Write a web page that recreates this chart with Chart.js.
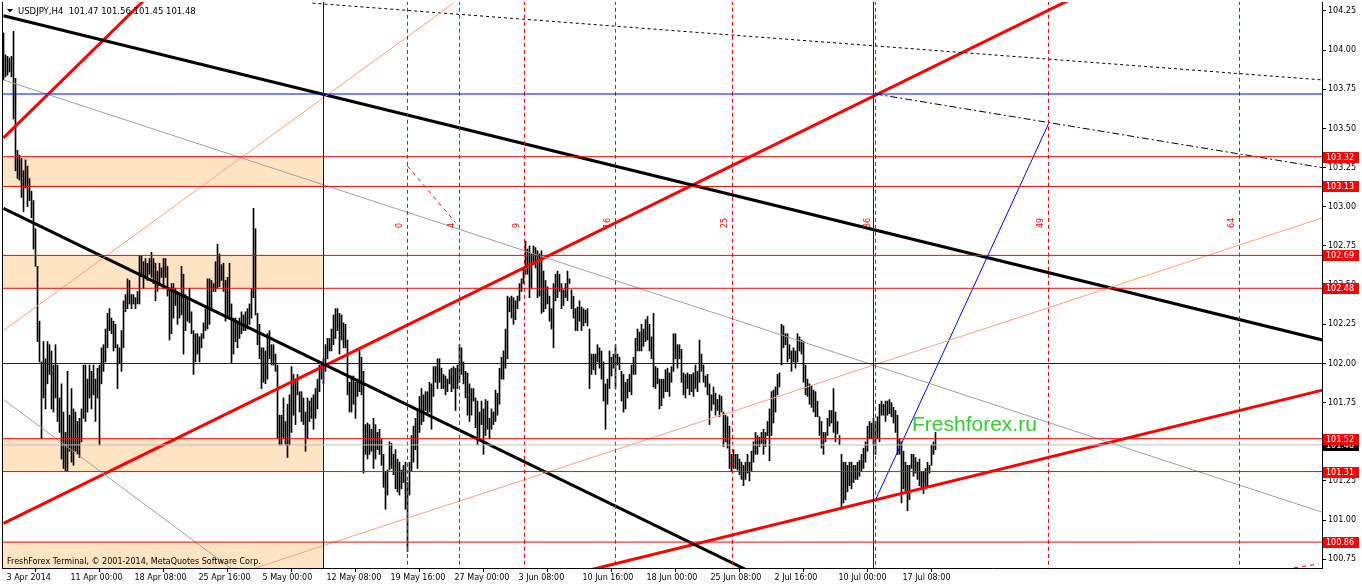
<!DOCTYPE html>
<html>
<head>
<meta charset="utf-8">
<title>USDJPY,H4</title>
<script src="https://cdn.jsdelivr.net/npm/chart.js@4.4.0/dist/chart.umd.min.js"></script>
<style>
  body { margin: 0; background: #fff; }
  canvas { display: block; }
</style>
</head>
<body>
<canvas id="myChart" width="1362" height="586"></canvas>
<script>
// H4 bars, index 0 = 3 Apr 2014 16:00
var barHigh = [
  104.11, 103.97, 103.96, 103.95, 103.96, 104.12, 103.82, 103.36, 103.33, 103.31,
  103.23, 103.30, 103.26, 103.18, 103.10, 103.04, 102.86, 102.62, 102.27, 102.01,
  102.14, 102.03, 102.14, 102.12, 102.08, 101.99, 102.12, 101.99, 101.78, 101.87,
  101.69, 101.56, 101.95, 101.67, 101.84, 101.71, 101.69, 101.63, 101.65, 101.71,
  101.99, 101.99, 101.90, 101.99, 101.95, 101.99, 101.90, 101.97, 101.99, 102.10,
  102.12, 102.22, 102.32, 102.35, 102.29, 102.27, 102.25, 102.12, 102.10, 102.21,
  102.40, 102.44, 102.54, 102.53, 102.44, 102.44, 102.42, 102.46, 102.69, 102.69,
  102.65, 102.67, 102.64, 102.67, 102.71, 102.67, 102.64, 102.59, 102.64, 102.61,
  102.67, 102.67, 102.62, 102.48, 102.51, 102.51, 102.48, 102.46, 102.44, 102.62,
  102.57, 102.44, 102.42, 102.48, 102.33, 102.21, 102.19, 102.19, 102.17, 102.19,
  102.26, 102.35, 102.54, 102.54, 102.53, 102.51, 102.65, 102.76, 102.70, 102.63,
  102.64, 102.53, 102.55, 102.64, 102.38, 102.29, 102.29, 102.27, 102.29, 102.33,
  102.31, 102.33, 102.35, 102.38, 102.48, 102.99, 102.86, 102.32, 102.25, 102.10,
  102.10, 102.08, 102.19, 102.21, 102.12, 102.12, 102.06, 101.99, 101.67, 101.67,
  101.78, 101.63, 101.74, 101.80, 101.98, 101.93, 101.90, 101.93, 101.82, 101.82,
  101.78, 101.69, 101.78, 101.76, 101.78, 101.80, 101.84, 101.90, 101.99, 102.01,
  102.03, 102.12, 102.16, 102.16, 102.22, 102.31, 102.35, 102.35, 102.32, 102.31,
  102.26, 102.25, 102.15, 101.88, 101.92, 101.92, 101.88, 101.90, 102.10, 102.04,
  101.95, 101.61, 101.62, 101.61, 101.58, 101.65, 101.61, 101.56, 101.58, 101.52,
  101.42, 101.31, 101.32, 101.50, 101.49, 101.42, 101.45, 101.39, 101.37, 101.32,
  101.35, 101.37, 101.24, 101.37, 101.54, 101.60, 101.65, 101.71, 101.79, 101.84,
  101.80, 101.82, 101.82, 101.88, 101.87, 101.98, 101.98, 102.03, 102.03, 101.97,
  101.93, 101.92, 101.90, 101.96, 101.97, 101.98, 101.97, 101.99, 102.12, 102.10,
  102.01, 101.95, 101.94, 101.87, 101.84, 101.84, 101.78, 101.76, 101.69, 101.76,
  101.71, 101.77, 101.76, 101.65, 101.71, 101.69, 101.83, 101.81, 101.97, 102.04,
  102.08, 102.22, 102.43, 102.42, 102.43, 102.42, 102.40, 102.43, 102.51, 102.54,
  102.61, 102.78, 102.73, 102.75, 102.70, 102.75, 102.74, 102.72, 102.70, 102.72,
  102.59, 102.53, 102.49, 102.43, 102.35, 102.51, 102.57, 102.59, 102.57, 102.51,
  102.47, 102.51, 102.59, 102.54, 102.47, 102.43, 102.35, 102.36, 102.40, 102.36,
  102.35, 102.34, 102.35, 102.22, 102.06, 102.06, 102.06, 102.12, 102.10, 102.08,
  102.01, 101.87, 101.90, 102.08, 102.04, 102.06, 102.12, 102.06, 102.04, 101.95,
  101.93, 101.88, 101.90, 101.93, 101.99, 102.04, 102.16, 102.22, 102.20, 102.25,
  102.22, 102.28, 102.30, 102.25, 102.17, 102.32, 101.98, 101.97, 101.90, 101.90,
  101.90, 101.96, 101.97, 101.94, 101.98, 102.19, 102.19, 102.12, 102.12, 102.09,
  101.94, 101.93, 101.94, 101.93, 101.93, 101.94, 101.99, 101.95, 102.15, 102.06,
  101.99, 101.92, 101.93, 101.87, 101.80, 101.85, 101.81, 101.77, 101.80, 101.79,
  101.69, 101.67, 101.66, 101.60, 101.42, 101.45, 101.42, 101.42, 101.39, 101.37,
  101.35, 101.37, 101.42, 101.37, 101.44, 101.50, 101.56, 101.54, 101.53, 101.56,
  101.58, 101.56, 101.63, 101.71, 101.82, 101.83, 101.85, 101.93, 101.94, 102.25,
  102.24, 102.19, 102.19, 102.12, 102.08, 102.10, 102.08, 102.19, 102.17, 102.15,
  102.14, 101.99, 101.90, 101.87, 101.86, 101.83, 101.82, 101.76, 101.66, 101.63,
  101.56, 101.56, 101.65, 101.70, 101.70, 101.84, 101.69, 101.63, 101.54, 101.42,
  101.37, 101.37, 101.35, 101.37, 101.37, 101.35, 101.35, 101.37, 101.38, 101.42,
  101.46, 101.50, 101.60, 101.63, 101.62, 101.65, 101.63, 101.66, 101.74, 101.76,
  101.74, 101.76, 101.76, 101.77, 101.75, 101.72, 101.70, 101.67, 101.52, 101.50,
  101.44, 101.37, 101.35, 101.35, 101.42, 101.42, 101.40, 101.37, 101.39, 101.31,
  101.31, 101.33, 101.37, 101.35, 101.48, 101.50, 101.56
];
var barLow = [
  103.81, 103.83, 103.84, 103.86, 103.83, 103.56, 103.23, 103.18, 103.17, 103.06,
  102.97, 103.12, 103.00, 103.04, 102.93, 102.73, 102.62, 102.14, 102.01, 101.52,
  101.78, 101.71, 101.87, 101.93, 101.71, 101.69, 101.78, 101.63, 101.56, 101.39,
  101.33, 101.31, 101.31, 101.44, 101.37, 101.35, 101.44, 101.42, 101.40, 101.50,
  101.65, 101.63, 101.69, 101.78, 101.71, 101.80, 101.63, 101.78, 101.48, 101.87,
  101.95, 102.01, 102.10, 102.21, 102.19, 102.08, 102.10, 101.84, 102.00, 101.95,
  102.10, 102.33, 102.35, 102.38, 102.35, 102.38, 102.35, 102.38, 102.38, 102.57,
  102.48, 102.55, 102.53, 102.57, 102.55, 102.51, 102.40, 102.46, 102.51, 102.55,
  102.48, 102.55, 102.43, 102.15, 102.19, 102.29, 102.37, 102.25, 102.29, 102.31,
  102.06, 102.21, 102.27, 102.26, 102.19, 101.93, 102.01, 102.06, 102.01, 102.10,
  102.16, 102.21, 102.22, 102.25, 102.35, 102.46, 102.46, 102.48, 102.49, 102.53,
  102.46, 102.27, 102.29, 102.29, 102.00, 102.06, 102.14, 102.10, 102.16, 102.19,
  102.21, 102.21, 102.22, 102.25, 102.29, 102.42, 102.31, 102.12, 102.03, 101.84,
  101.88, 101.87, 101.90, 102.03, 101.99, 101.99, 101.95, 101.52, 101.48, 101.48,
  101.52, 101.48, 101.40, 101.48, 101.56, 101.67, 101.61, 101.80, 101.69, 101.63,
  101.61, 101.44, 101.52, 101.63, 101.65, 101.58, 101.65, 101.71, 101.82, 101.90,
  101.87, 101.95, 102.03, 102.08, 102.08, 102.12, 102.16, 102.21, 102.06, 102.15,
  102.10, 102.10, 101.80, 101.69, 101.69, 101.74, 101.65, 101.79, 101.82, 101.80,
  101.30, 101.42, 101.39, 101.42, 101.44, 101.33, 101.39, 101.45, 101.42, 101.35,
  101.21, 101.07, 101.16, 101.32, 101.33, 101.29, 101.20, 101.18, 101.16, 101.20,
  101.24, 101.07, 100.80, 101.16, 101.31, 101.37, 101.45, 101.33, 101.56, 101.61,
  101.63, 101.70, 101.67, 101.69, 101.58, 101.79, 101.88, 101.84, 101.88, 101.84,
  101.84, 101.80, 101.82, 101.87, 101.82, 101.84, 101.70, 101.84, 101.88, 101.93,
  101.87, 101.78, 101.67, 101.63, 101.67, 101.76, 101.59, 101.48, 101.52, 101.61,
  101.42, 101.54, 101.58, 101.52, 101.58, 101.61, 101.63, 101.67, 101.74, 101.90,
  101.90, 101.97, 102.03, 102.33, 102.29, 102.25, 102.28, 102.35, 102.40, 102.46,
  102.51, 102.57, 102.57, 102.42, 102.48, 102.63, 102.61, 102.42, 102.43, 102.32,
  102.33, 102.35, 102.38, 102.27, 102.22, 102.10, 102.40, 102.42, 102.46, 102.35,
  102.37, 102.42, 102.40, 102.51, 102.35, 102.29, 102.21, 102.21, 102.27, 102.21,
  102.24, 102.26, 102.24, 101.84, 101.93, 101.96, 101.93, 102.01, 101.97, 101.90,
  101.76, 101.58, 101.74, 101.84, 101.92, 101.97, 101.84, 101.99, 101.96, 101.76,
  101.69, 101.71, 101.78, 101.82, 101.80, 101.93, 101.93, 102.08, 102.08, 102.08,
  102.11, 102.14, 102.15, 102.08, 102.03, 101.85, 101.84, 101.87, 101.71, 101.73,
  101.78, 101.82, 101.82, 101.79, 101.88, 101.95, 102.03, 101.97, 102.03, 101.88,
  101.80, 101.78, 101.84, 101.80, 101.82, 101.79, 101.84, 101.82, 101.88, 101.95,
  101.88, 101.85, 101.80, 101.61, 101.70, 101.74, 101.67, 101.70, 101.66, 101.69,
  101.47, 101.50, 101.46, 101.33, 101.31, 101.33, 101.33, 101.32, 101.29, 101.26,
  101.22, 101.26, 101.30, 101.25, 101.31, 101.37, 101.42, 101.42, 101.47, 101.49,
  101.42, 101.47, 101.54, 101.38, 101.54, 101.62, 101.69, 101.80, 101.85, 101.99,
  102.10, 102.12, 102.01, 102.03, 101.95, 102.01, 101.97, 102.01, 102.08, 102.06,
  101.88, 101.80, 101.79, 101.74, 101.72, 101.69, 101.66, 101.66, 101.54, 101.46,
  101.42, 101.50, 101.54, 101.60, 101.62, 101.56, 101.50, 101.55, 101.48, 101.07,
  101.11, 101.13, 101.18, 101.22, 101.20, 101.24, 101.26, 101.26, 101.28, 101.31,
  101.33, 101.37, 101.44, 101.52, 101.52, 101.48, 101.42, 101.52, 101.50, 101.67,
  101.67, 101.63, 101.67, 101.68, 101.66, 101.62, 101.56, 101.42, 101.42, 101.11,
  101.20, 101.18, 101.06, 101.13, 101.33, 101.28, 101.30, 101.26, 101.22, 101.20,
  101.17, 101.22, 101.22, 101.30, 101.35, 101.42, 101.45
];

var xTickIdx = [0, 32, 64, 96, 128, 160, 192, 224, 256, 288, 320, 352, 384, 416, 448];
var xTickLabels = ['3 Apr 2014', '11 Apr 00:00', '18 Apr 08:00', '25 Apr 16:00', '5 May 00:00',
  '12 May 08:00', '19 May 16:00', '27 May 00:00', '3 Jun 08:00', '10 Jun 16:00',
  '18 Jun 00:00', '25 Jun 08:00', '2 Jul 16:00', '10 Jul 00:00', '17 Jul 08:00'];
var yTicks = [100.75, 101.00, 101.25, 101.50, 101.75, 102.00, 102.25, 102.50, 102.75,
  103.00, 103.25, 103.50, 103.75, 104.00, 104.25];

var redLevels = [103.32, 103.13, 102.69, 102.48, 101.52, 101.31, 100.86];
var blueLevels = [103.72, 102.00];
var bidLevel = 101.48;
var zoneTop = [103.32, 102.69, 101.52, 100.86];
var zoneBottom = [103.13, 102.48, 101.31, 100.50];
var zoneEndIdx = 160;
var blueVerticals = [160, 435];
var fibIdx = [202, 228, 260.5, 306, 364.5, 436, 522.5, 618];
var fibLabels = ['0', '4', '9', '16', '25', '36', '49', '64'];

// trend lines: [index1, price1, index2, price2]
var thickBlack = [[0, 104.22, 659.5, 102.15], [0, 102.99, 380, 100.63]];
var thickRed = [[0, 103.44, 80, 104.44], [0, 100.98, 560, 104.49], [292.5, 100.68, 659.5, 101.83]];
var salmonLines = [[0, 102.21, 225, 104.30], [122.5, 100.68, 659.5, 102.93]];
var grayLines = [[0, 103.81, 659.5, 101.05], [0, 101.77, 115, 100.68]];
var blueTrend = [436, 101.13, 522.5, 103.53];
var dottedLine = [154.5, 104.30, 659.5, 103.81];
var dashDotLine = [436, 103.72, 659.5, 103.25];
var redDashed = [[202, 103.26, 226, 102.90], [637.5, 100.68, 657.5, 100.72]];

var FONT = "'DejaVu Sans', Tahoma, sans-serif";
var X_MIN = -0.75, X_MAX = 659.25;
var Y_MIN = 100.6946, Y_MAX = 104.3074;

function seg(l, color, width, dash) {
  return {
    type: 'line',
    data: [{x: l[0], y: l[1]}, {x: l[2], y: l[3]}],
    borderColor: color,
    borderWidth: width,
    borderDash: dash || [],
    pointRadius: 0,
    tension: 0,
    clip: 0,
    order: 1
  };
}

var datasets = [];
datasets.push({
  type: 'bar',
  data: barHigh.map(function(h, k) { return {x: k, y: [barLow[k], h]}; }),
  backgroundColor: '#000',
  borderWidth: 0,
  barThickness: 1,
  grouped: false,
  order: 10
});
datasets.push(seg([X_MIN, bidLevel, X_MAX, bidLevel], '#C0C0C0', 1));
redLevels.forEach(function(v) { datasets.push(seg([X_MIN, v, X_MAX, v], '#FF0000', 1)); });
blueLevels.forEach(function(v) { datasets.push(seg([X_MIN, v, X_MAX, v], '#0000FF', 1)); });
blueVerticals.forEach(function(v) { datasets.push(seg([v, 100, v, 105], '#0000FF', 1)); });
fibIdx.forEach(function(v) { datasets.push(seg([v, 100, v, 105], '#FF0000', 1, [4, 3])); });
redDashed.forEach(function(l) { datasets.push(seg(l, '#FF0000', 1, [4, 4])); });
grayLines.forEach(function(l) { datasets.push(seg(l, '#A0A0A0', 1)); });
salmonLines.forEach(function(l) { datasets.push(seg(l, '#FFA07A', 1)); });
datasets.push(seg(dottedLine, '#000', 1, [3, 3]));
datasets.push(seg(dashDotLine, '#000', 1, [7, 3, 2, 3]));
datasets.push(seg(blueTrend, '#0000FF', 1));
thickBlack.forEach(function(l) { datasets.push(seg(l, '#000', 3)); });
thickRed.forEach(function(l) { datasets.push(seg(l, '#FF0000', 3)); });

var overlay = {
  id: 'overlay',
  beforeDatasetsDraw: function(chart) {
    var ctx = chart.ctx, a = chart.chartArea, x = chart.scales.x, y = chart.scales.y;
    ctx.save();
    ctx.fillStyle = '#FFE4C4';
    var xr = x.getPixelForValue(zoneEndIdx);
    for (var k = 0; k < zoneTop.length; k++) {
      var t = y.getPixelForValue(zoneTop[k]);
      var b = Math.min(y.getPixelForValue(zoneBottom[k]), a.bottom);
      ctx.fillRect(a.left, t, xr - a.left, b - t);
    }
    ctx.restore();
  },
  afterDraw: function(chart) {
    var ctx = chart.ctx, a = chart.chartArea, x = chart.scales.x, y = chart.scales.y;
    ctx.save();
    // left frame
    ctx.strokeStyle = '#000';
    ctx.lineWidth = 1;
    ctx.beginPath();
    ctx.moveTo(a.left + 0.5, a.top);
    ctx.lineTo(a.left + 0.5, a.bottom);
    ctx.stroke();

    // fib time zone numbers
    ctx.fillStyle = '#FF0000';
    ctx.font = '8px ' + FONT;
    ctx.textAlign = 'left';
    ctx.textBaseline = 'middle';
    fibIdx.forEach(function(v, k) {
      ctx.save();
      ctx.translate(x.getPixelForValue(v) - 8, 228);
      ctx.rotate(-Math.PI / 2);
      ctx.fillText(fibLabels[k], 0, 0);
      ctx.restore();
    });

    // price labels on the axis
    function tag(v, bg) {
      var py = Math.round(y.getPixelForValue(v));
      ctx.fillStyle = bg;
      ctx.fillRect(a.right + 1, py - 5, 36, 11);
      ctx.fillStyle = '#fff';
      ctx.fillText(v.toFixed(2), a.right + 4, py + 0.5);
    }
    ctx.textBaseline = 'middle';
    tag(bidLevel, '#000');
    redLevels.forEach(function(v) { tag(v, '#FF0000'); });

    // header
    ctx.fillStyle = '#000';
    ctx.beginPath();
    ctx.moveTo(7, 9);
    ctx.lineTo(13, 9);
    ctx.lineTo(10, 12.5);
    ctx.closePath();
    ctx.fill();
    ctx.textBaseline = 'alphabetic';
    ctx.font = '8.5px ' + FONT;
    ctx.fillText('USDJPY,H4  101.47 101.56 101.45 101.48', 18, 14);
    ctx.font = '8px ' + FONT;
    ctx.fillText('FreshForex Terminal, \u00A9 2001-2014, MetaQuotes Software Corp.', 7, 564);

    ctx.fillStyle = '#33CC33';
    ctx.font = "21px 'Liberation Sans', Arial, sans-serif";
    ctx.fillText('Freshforex.ru', 912, 431);
    ctx.restore();
  }
};

var ctx = document.getElementById('myChart').getContext('2d');
var myChart = new Chart(ctx, {
  type: 'bar',
  data: { datasets: datasets },
  plugins: [overlay],
  options: {
    responsive: false,
    animation: false,
    events: [],
    layout: { padding: { left: 2, top: 2, right: 0, bottom: 0 } },
    plugins: { legend: { display: false }, tooltip: { enabled: false } },
    scales: {
      x: {
        type: 'linear',
        min: X_MIN,
        max: X_MAX,
        offset: false,
        afterBuildTicks: function(s) { s.ticks = xTickIdx.map(function(v) { return {value: v}; }); },
        afterFit: function(s) { s.height = 18; s.paddingLeft = 0; s.paddingRight = 0; },
        grid: { drawOnChartArea: false, drawTicks: true, tickLength: 4, color: '#000' },
        border: { color: '#000' },
        ticks: {
          autoSkip: false,
          maxRotation: 0,
          align: 'start',
          labelOffset: 3,
          padding: 1,
          color: '#000',
          font: { family: FONT, size: 8 },
          callback: function(v, i) { return xTickLabels[i]; }
        }
      },
      y: {
        type: 'linear',
        position: 'right',
        min: Y_MIN,
        max: Y_MAX,
        afterBuildTicks: function(s) { s.ticks = yTicks.map(function(v) { return {value: v}; }); },
        afterFit: function(s) { s.width = 40; s.paddingTop = 0; s.paddingBottom = 0; },
        grid: { drawOnChartArea: false, drawTicks: true, tickLength: 4, color: '#000' },
        border: { color: '#000' },
        ticks: {
          padding: 2,
          color: '#000',
          font: { family: FONT, size: 8 },
          callback: function(v) { return Number(v).toFixed(2); }
        }
      }
    }
  }
});
</script>
</body>
</html>
